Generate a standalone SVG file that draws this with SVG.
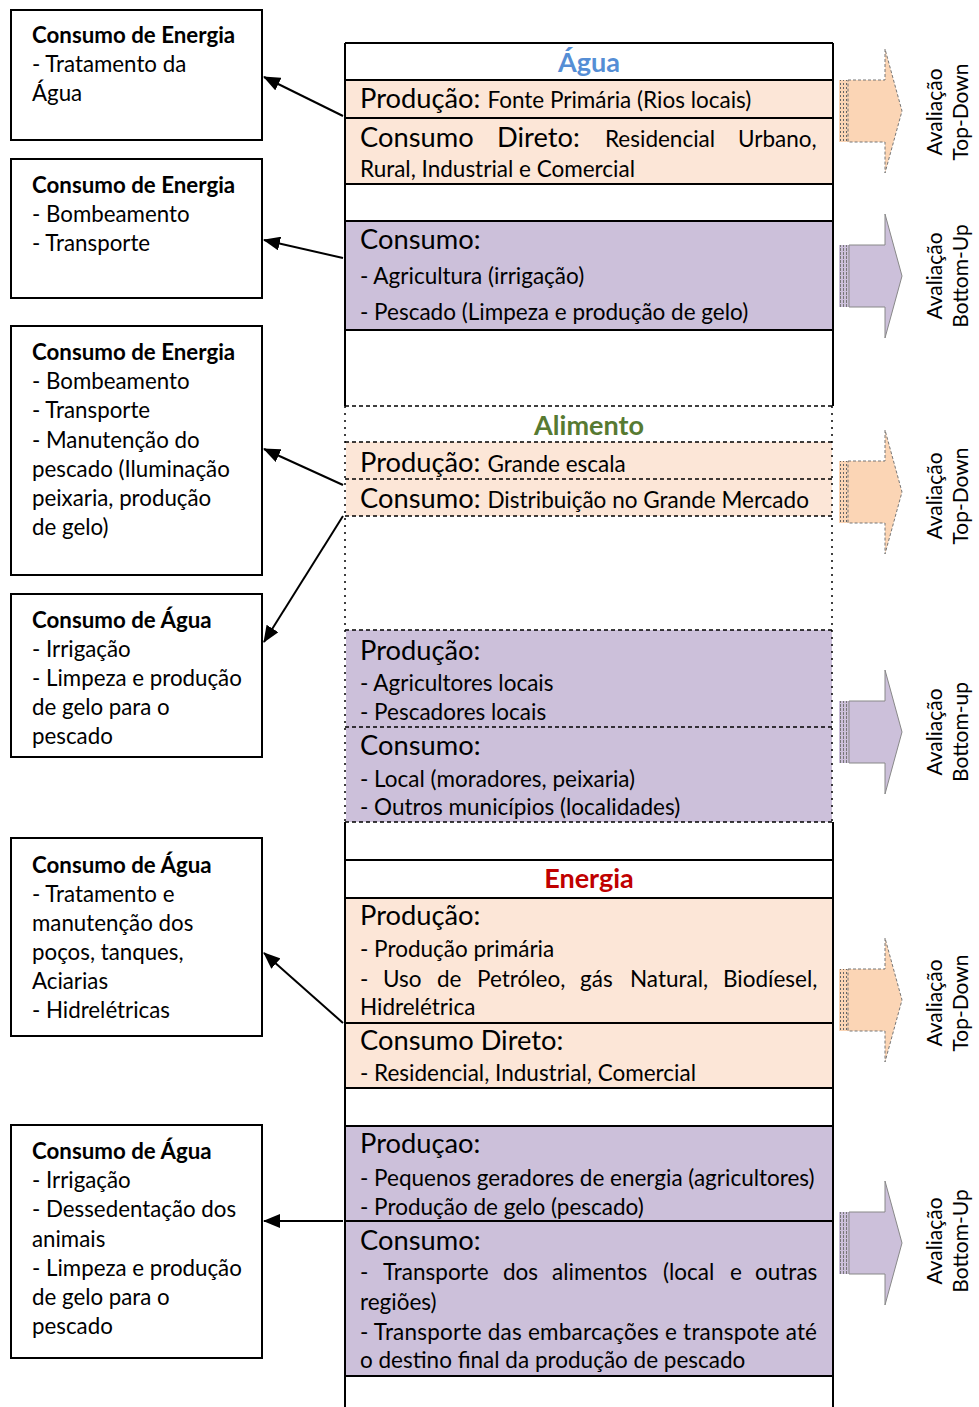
<svg xmlns="http://www.w3.org/2000/svg" width="979" height="1407" viewBox="0 0 979 1407">
<style>
text{font-family:Lato,"Open Sans","Liberation Sans",sans-serif;fill:#000}
.bx{fill:#fff;stroke:#000;stroke-width:2}
.lt{font-size:22.3px}
.lb{font-size:22.3px;font-weight:bold}
.big{font-size:27.3px}
.sm{font-size:22.5px}
.ttl{font-size:27px;font-weight:bold;text-anchor:middle}
.peach{fill:#fce6d7}
.purp{fill:#ccc0da}
.sl{stroke:#000;stroke-width:2;fill:none}
.dl{stroke:#000;stroke-width:1.5;stroke-dasharray:4 3;fill:none}
.dv{stroke:#000;stroke-width:1.5;stroke-dasharray:2 5;fill:none}
.rt{font-size:21px;text-anchor:middle}
.ap{fill:#fbd5b5;stroke:#777;stroke-width:1;stroke-dasharray:3 2}
.au{fill:#ccc0da;stroke:#888;stroke-width:1}
.con{stroke:#000;stroke-width:2;fill:none;marker-end:url(#ah)}
</style>
<defs>
<marker id="ah" markerWidth="18" markerHeight="14" refX="16" refY="7" orient="auto" markerUnits="userSpaceOnUse">
<path d="M0,0 L17,7 L0,14 z" fill="#000"/>
</marker>
<pattern id="sp" width="3" height="4" patternUnits="userSpaceOnUse">
<rect width="3" height="4" fill="#fbd5b5"/>
<rect x="0" y="0" width="1" height="2" fill="#666"/>
</pattern>
<pattern id="su" width="3" height="4" patternUnits="userSpaceOnUse">
<rect width="3" height="4" fill="#ccc0da"/>
<rect x="0" y="0" width="1" height="3" fill="#777"/>
</pattern>
<g id="arrP">
<rect x="839" y="-31" width="9" height="62" fill="url(#sp)"/>
<polygon class="ap" points="848,-31 885,-31 885,-62 902,0 885,62 885,31 848,31"/>
</g>
<g id="arrU">
<rect x="839" y="-31" width="10" height="62" fill="url(#su)"/>
<polygon class="au" points="849,-31 885,-31 885,-62 902,0 885,62 885,31 849,31"/>
</g>
</defs>
<rect width="979" height="1407" fill="#fff"/>

<g id="column">
<rect x="346" y="80" width="486" height="104" class="peach"/>
<rect x="346" y="221" width="486" height="109" class="purp"/>
<rect x="346" y="442" width="486" height="74" class="peach"/>
<rect x="346" y="630" width="486" height="192" class="purp"/>
<rect x="346" y="898" width="486" height="190" class="peach"/>
<rect x="346" y="1126" width="486" height="250" class="purp"/>
<path class="sl" d="M345,43 V406 M833,43 V406 M345,822 V1407 M833,822 V1407"/>
<path class="sl" d="M345,43 H833 M345,80 H833 M345,118 H833 M345,184 H833 M345,221 H833 M345,330 H833"/>
<path class="sl" d="M345,860 H833 M345,898 H833 M345,1023 H833 M345,1088 H833 M345,1126 H833 M345,1221 H833 M345,1376 H833"/>
<path class="dv" d="M345,406 V822 M832,406 V822"/>
<path class="dl" d="M345,406 H833 M345,442 H833 M345,479 H833 M345,516 H833 M345,630 H833 M345,727 H833 M345,822 H833"/>
</g>

<g id="agua">
<text x="589" y="72" class="ttl" style="fill:#558ed5">Água</text>
<text x="360" y="108" class="big">Produção: <tspan class="sm">Fonte Primária (Rios locais)</tspan></text>
<text y="147" class="big"><tspan x="360">Consumo</tspan><tspan x="497">Direto:</tspan><tspan x="605" class="sm">Residencial</tspan><tspan x="738" class="sm">Urbano,</tspan></text>
<text x="360" y="177" class="sm">Rural, Industrial e Comercial</text>
<text x="360" y="249" class="big">Consumo:</text>
<text x="360" y="284" class="sm">- Agricultura (irrigação)</text>
<text x="360" y="320" class="sm">- Pescado (Limpeza e produção de gelo)</text>
</g>

<g id="alimento">
<text x="589" y="435" class="ttl" style="fill:#577a32">Alimento</text>
<text x="360" y="472" class="big">Produção: <tspan class="sm">Grande escala</tspan></text>
<text x="360" y="508" class="big">Consumo: <tspan class="sm">Distribuição no Grande Mercado</tspan></text>
<text x="360" y="660" class="big">Produção:</text>
<text x="360" y="691" class="sm">- Agricultores locais</text>
<text x="360" y="720" class="sm">- Pescadores locais</text>
<text x="360" y="755" class="big">Consumo:</text>
<text x="360" y="787" class="sm">- Local (moradores, peixaria)</text>
<text x="360" y="815" class="sm">- Outros municípios (localidades)</text>
</g>

<g id="energia">
<text x="589" y="888" class="ttl" style="fill:#c00000">Energia</text>
<text x="360" y="925" class="big">Produção:</text>
<text x="360" y="957" class="sm">- Produção primária</text>
<text y="987" class="sm"><tspan x="360">-</tspan><tspan x="383">Uso</tspan><tspan x="437">de</tspan><tspan x="477">Petróleo,</tspan><tspan x="580">gás</tspan><tspan x="630">Natural,</tspan><tspan x="723">Biodíesel,</tspan></text>
<text x="360" y="1015" class="sm">Hidrelétrica</text>
<text x="360" y="1050" class="big">Consumo Direto:</text>
<text x="360" y="1081" class="sm">- Residencial, Industrial, Comercial</text>
<text x="360" y="1153" class="big">Produçao:</text>
<text x="360" y="1186" class="sm">- Pequenos geradores de energia (agricultores)</text>
<text x="360" y="1215" class="sm">- Produção de gelo (pescado)</text>
<text x="360" y="1250" class="big">Consumo:</text>
<text y="1280" class="sm"><tspan x="360">-</tspan><tspan x="383">Transporte</tspan><tspan x="503">dos</tspan><tspan x="552">alimentos</tspan><tspan x="663">(local</tspan><tspan x="730">e</tspan><tspan x="755">outras</tspan></text>
<text x="360" y="1310" class="sm">regiões)</text>
<text x="360" y="1340" class="sm" textLength="457" lengthAdjust="spacing">- Transporte das embarcações e transpote até</text>
<text x="360" y="1368" class="sm">o destino final da produção de pescado</text>
</g>

<g id="box1">
<rect class="bx" x="11" y="10" width="251" height="130"/>
<text x="32" y="43" class="lb">Consumo de Energia</text>
<text x="32" y="72" class="lt">- Tratamento da</text>
<text x="32" y="101" class="lt">Água</text>
</g>
<g id="box2">
<rect class="bx" x="11" y="159" width="251" height="139"/>
<text x="32" y="193" class="lb">Consumo de Energia</text>
<text x="32" y="222" class="lt">- Bombeamento</text>
<text x="32" y="251" class="lt">- Transporte</text>
</g>
<g id="box3">
<rect class="bx" x="11" y="326" width="251" height="249"/>
<text x="32" y="360" class="lb">Consumo de Energia</text>
<text x="32" y="389" class="lt">- Bombeamento</text>
<text x="32" y="418" class="lt">- Transporte</text>
<text x="32" y="448" class="lt">- Manutenção do</text>
<text x="32" y="477" class="lt">pescado (Iluminação</text>
<text x="32" y="506" class="lt">peixaria, produção</text>
<text x="32" y="535" class="lt">de gelo)</text>
</g>
<g id="box4">
<rect class="bx" x="11" y="594" width="251" height="163"/>
<text x="32" y="628" class="lb">Consumo de Água</text>
<text x="32" y="657" class="lt">- Irrigação</text>
<text x="32" y="686" class="lt">- Limpeza e produção</text>
<text x="32" y="715" class="lt">de gelo para o</text>
<text x="32" y="744" class="lt">pescado</text>
</g>
<g id="box5">
<rect class="bx" x="11" y="838" width="251" height="198"/>
<text x="32" y="873" class="lb">Consumo de Água</text>
<text x="32" y="902" class="lt">- Tratamento e</text>
<text x="32" y="931" class="lt">manutenção dos</text>
<text x="32" y="960" class="lt">poços, tanques,</text>
<text x="32" y="989" class="lt">Aciarias</text>
<text x="32" y="1018" class="lt">- Hidrelétricas</text>
</g>
<g id="box6">
<rect class="bx" x="11" y="1125" width="251" height="233"/>
<text x="32" y="1159" class="lb">Consumo de Água</text>
<text x="32" y="1188" class="lt">- Irrigação</text>
<text x="32" y="1217" class="lt">- Dessedentação dos</text>
<text x="32" y="1247" class="lt">animais</text>
<text x="32" y="1276" class="lt">- Limpeza e produção</text>
<text x="32" y="1305" class="lt">de gelo para o</text>
<text x="32" y="1334" class="lt">pescado</text>
</g>

<g id="connectors">
<line class="con" x1="343" y1="116" x2="264" y2="77"/>
<line class="con" x1="343" y1="258" x2="264" y2="240"/>
<line class="con" x1="343" y1="485" x2="264" y2="449"/>
<line class="con" x1="343" y1="516" x2="264" y2="642"/>
<line class="con" x1="343" y1="1023" x2="264" y2="953"/>
<line class="con" x1="343" y1="1221" x2="264" y2="1221"/>
</g>

<g id="eval1">
<use href="#arrP" transform="translate(0,111)"/>
<text class="rt" transform="translate(942,112) rotate(-90)">Avaliação</text>
<text class="rt" transform="translate(968,112) rotate(-90)">Top-Down</text>
</g>
<g id="eval2">
<use href="#arrU" transform="translate(0,276)"/>
<text class="rt" transform="translate(942,276) rotate(-90)">Avaliação</text>
<text class="rt" transform="translate(968,276) rotate(-90)">Bottom-Up</text>
</g>
<g id="eval3">
<use href="#arrP" transform="translate(0,492)"/>
<text class="rt" transform="translate(942,496) rotate(-90)">Avaliação</text>
<text class="rt" transform="translate(968,496) rotate(-90)">Top-Down</text>
</g>
<g id="eval4">
<use href="#arrU" transform="translate(0,732)"/>
<text class="rt" transform="translate(942,732) rotate(-90)">Avaliação</text>
<text class="rt" transform="translate(968,732) rotate(-90)">Bottom-up</text>
</g>
<g id="eval5">
<use href="#arrP" transform="translate(0,1000)"/>
<text class="rt" transform="translate(942,1003) rotate(-90)">Avaliação</text>
<text class="rt" transform="translate(968,1003) rotate(-90)">Top-Down</text>
</g>
<g id="eval6">
<use href="#arrU" transform="translate(0,1243)"/>
<text class="rt" transform="translate(942,1241) rotate(-90)">Avaliação</text>
<text class="rt" transform="translate(968,1241) rotate(-90)">Bottom-Up</text>
</g>
</svg>
